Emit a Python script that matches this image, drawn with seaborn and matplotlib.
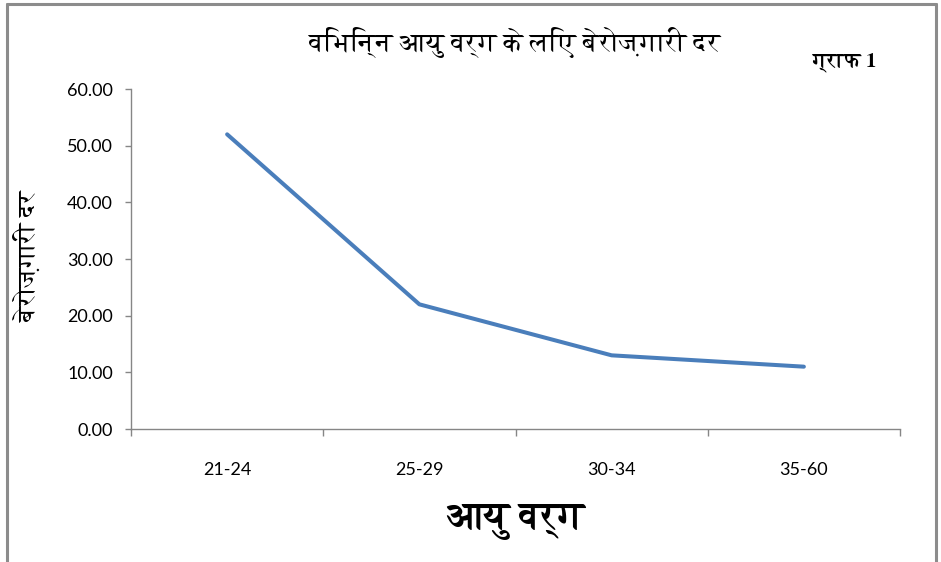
import matplotlib
matplotlib.use("Agg")
import matplotlib.pyplot as plt
from matplotlib import font_manager
from matplotlib.ft2font import FT2Font
from matplotlib.ticker import FixedLocator, FormatStrFormatter
import seaborn as sns
import pandas as pd

# Data
age_groups = ["21-24", "25-29", "30-34", "35-60"]
unemployment_rate = [52, 22, 13, 11]
y_ticks = [0, 10, 20, 30, 40, 50, 60]

title_text = "विभिन्न आयु वर्ग के लिए बेरोज़गारी दर"
graph_tag = "ग्राफ 1"
x_label = "आयु वर्ग"
y_label = "बेरोज़गारी दर"


def find_devanagari_fonts():
    """Return family names of installed fonts that contain Devanagari glyphs."""
    found = []
    for entry in font_manager.fontManager.ttflist:
        try:
            cmap = FT2Font(entry.fname).get_charmap()
        except Exception:
            continue
        if 0x0915 in cmap and 0x093F in cmap:
            if entry.name not in found:
                found.append(entry.name)
    return found


deva_fonts = find_devanagari_fonts()
serif_pref = [f for f in deva_fonts if "serif" in f.lower()]
deva_family = (serif_pref + deva_fonts + ["DejaVu Sans"])

sns.set_theme(style="white")
plt.rcParams["font.family"] = ["Lato", "DejaVu Sans"]

df = pd.DataFrame({"age": age_groups, "rate": unemployment_rate})

fig = plt.figure(figsize=(9.41, 5.62), dpi=100)
ax = fig.add_axes([131 / 941, 1 - 429 / 562, (900 - 131) / 941, (429 - 89) / 562])

sns.lineplot(data=df, x="age", y="rate", ax=ax, color="#4A7EBB",
             linewidth=2.9, solid_capstyle="round", sort=False)

ax.set_xlim(-0.5, len(age_groups) - 0.5)
ax.set_ylim(0, 60)
ax.set_yticks(y_ticks)
ax.yaxis.set_major_formatter(FormatStrFormatter("%.2f"))
ax.set_xticks(range(len(age_groups)))
ax.set_xticklabels(age_groups)
ax.xaxis.set_minor_locator(FixedLocator([i - 0.5 for i in range(len(age_groups) + 1)]))

spine_color = "#868686"
for side in ["top", "right"]:
    ax.spines[side].set_visible(False)
for side in ["left", "bottom"]:
    ax.spines[side].set_color(spine_color)
    ax.spines[side].set_linewidth(1.0)

ax.tick_params(axis="y", which="major", direction="out", length=4, width=1,
               color=spine_color, left=True, pad=9, labelsize=13, labelcolor="#000000")
ax.tick_params(axis="x", which="major", length=0, pad=24, labelsize=13, labelcolor="#000000")
ax.tick_params(axis="x", which="minor", direction="out", length=5, width=1,
               color=spine_color, bottom=True)

ax.set_xlabel("")
ax.set_ylabel("")

fig.text(515 / 941, 1 - 42 / 562, title_text, ha="center", va="center",
         fontsize=19, family=deva_family, color="#000000")
fig.text(845 / 941, 1 - 62 / 562, graph_tag, ha="center", va="center",
         fontsize=15, fontweight="bold", family=deva_family, color="#000000")
fig.text(515 / 941, 1 - 522 / 562, x_label, ha="center", va="center",
         fontsize=27, fontweight="bold", family=deva_family, color="#000000")
fig.text(28 / 941, 1 - 257 / 562, y_label, ha="center", va="center",
         rotation=90, fontsize=18, family=deva_family, color="#000000")

# Outer frame of the chart area
frame_kw = dict(color="#8C8C8C", linewidth=2.2, transform=fig.transFigure)
fig.add_artist(plt.Line2D([7 / 941, 7 / 941], [0, 1 - 4 / 562], **frame_kw))
fig.add_artist(plt.Line2D([7 / 941, 936 / 941], [1 - 4 / 562, 1 - 4 / 562], **frame_kw))
fig.add_artist(plt.Line2D([936 / 941, 936 / 941], [0, 1 - 4 / 562], **frame_kw))

fig.savefig("out.png", dpi=100)
